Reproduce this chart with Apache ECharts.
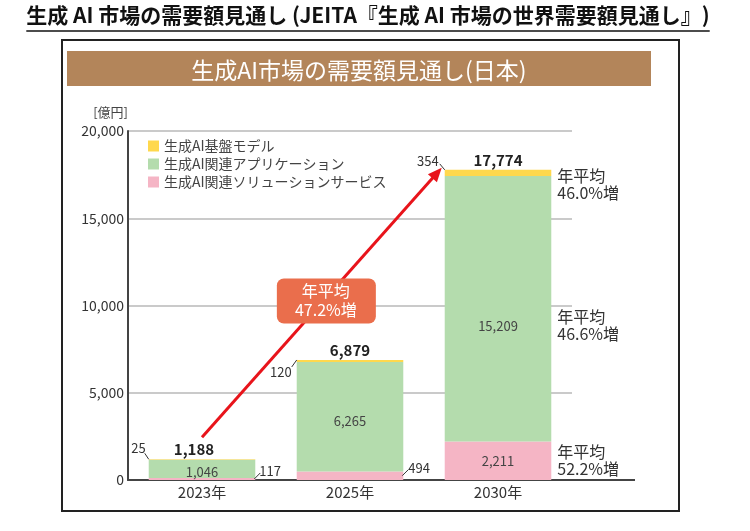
<!DOCTYPE html>
<html><head><meta charset="utf-8">
<script src="https://cdn.jsdelivr.net/npm/echarts@6/dist/echarts.min.js"></script>
<style>html,body{margin:0;padding:0;background:#fff}#c{width:750px;height:531px}</style>
</head><body><div id="c"></div>
<script>
// ---- data ----
const categories = ['2023年', '2025年', '2030年'];
const solutionValues = [117, 494, 2211];       // 生成AI関連ソリューションサービス
const applicationValues = [1046, 6265, 15209]; // 生成AI関連アプリケーション
const foundationValues = [25, 120, 354];       // 生成AI基盤モデル
const totals = [1188, 6879, 17774];
const yTicks = [0, 5000, 10000, 15000, 20000];
const seriesNames = ['生成AI基盤モデル', '生成AI関連アプリケーション', '生成AI関連ソリューションサービス'];
const growthFoundation = '46.0%増';
const growthApplication = '46.6%増';
const growthSolution = '52.2%増';
const growthOverall = '47.2%増';
const growthPrefix = '年平均';
const titleText = '生成 AI 市場の需要額見通し (JEITA『生成 AI 市場の世界需要額見通し』)';
const headerText = '生成AI市場の需要額見通し(日本)';
const unitText = '[億円]';

// ---- styles ----
const FONT = '"Noto Sans CJK JP", "Noto Sans", sans-serif';
const C_YEL = '#FFD84D', C_GRN = '#B4DCAD', C_PNK = '#F5B5C5';
const BAR_RATIO = 0.72;
const fmt = v => v.toLocaleString('en-US');

// callout layout (offsets only)
const foundationCallout = [
  { line: [-4, -6], text: [-3, -11] },
  { line: [-5, 7], text: [-5, 12] },
  { line: [-5, -6], text: [-6, -9] }
];
const solutionCallout = [
  { line: [5, -6], text: [4, -8] },
  { line: [5, -6], text: [5, -8] },
  null
];
const totalDx = [-8, 0, 0];

const chart = echarts.init(document.getElementById('c'));

// measure title for underline
const ctx = document.createElement('canvas').getContext('2d');
const titleFont = 'bold 21px ' + FONT;
ctx.font = titleFont;
const titleW = ctx.measureText(titleText).width;
const titleCx = 368;

function renderCallouts(params, api) {
  const i = api.value(0);
  const cx = api.coord([i, 0])[0];
  const half = api.size([1, 0])[0] * BAR_RATIO / 2;
  const left = cx - half, right = cx + half;
  const yBase = api.coord([i, 0])[1];
  const yTop = api.coord([i, totals[i]])[1];
  const yPinkTop = api.coord([i, solutionValues[i]])[1];
  const yGreenTop = api.coord([i, solutionValues[i] + applicationValues[i]])[1];
  const kids = [];
  const txt = (text, x, y, align, size, color, weight, lh) => ({
    type: 'text', z2: 20,
    style: { text, x, y, align, verticalAlign: 'middle', fill: color,
      font: (weight || 'normal') + ' ' + size + 'px ' + FONT, lineHeight: lh || size }
  });
  // total label
  kids.push(txt(fmt(totals[i]), cx + totalDx[i], yTop - 10, 'center', 15, '#222', 'bold'));
  // foundation callout (left of bar top)
  const fc = foundationCallout[i];
  kids.push({ type: 'line', shape: { x1: left, y1: yTop, x2: left + fc.line[0], y2: yTop + fc.line[1] },
    style: { stroke: '#333', lineWidth: 1 } });
  kids.push(txt(fmt(foundationValues[i]), left + fc.text[0], yTop + fc.text[1], 'right', 13, '#333'));
  // solution callout (right of bar bottom)
  const sc = solutionCallout[i];
  if (sc) {
    const ym = (yBase + yPinkTop) / 2;
    kids.push({ type: 'line', shape: { x1: right - 1, y1: ym, x2: right + sc.line[0], y2: ym + sc.line[1] },
      style: { stroke: '#333', lineWidth: 1 } });
    kids.push(txt(fmt(solutionValues[i]), right + sc.text[0], ym + sc.text[1], 'left', 13, '#333'));
  }
  if (i === categories.length - 1) {
    // growth notes to the right of last bar
    const gx = right + 6;
    kids.push(txt(growthPrefix + '\n' + growthFoundation, gx, yTop + 15, 'left', 16, '#333', 'normal', 17));
    kids.push(txt(growthPrefix + '\n' + growthApplication, gx, (yPinkTop + yGreenTop) / 2 + 17, 'left', 16, '#333', 'normal', 17));
    kids.push(txt(growthPrefix + '\n' + growthSolution, gx, (yBase + yPinkTop) / 2, 'left', 16, '#333', 'normal', 17));
    // baseline extension
    const cs = params.coordSys;
    kids.push({ type: 'line', shape: { x1: cs.x + cs.width - 1, y1: yBase, x2: cs.x + cs.width + 63, y2: yBase },
      style: { stroke: '#444', lineWidth: 2 } });
    // overall growth arrow
    const c0 = api.coord([0, totals[0]]);
    const sx = c0[0], sy = c0[1] - 22;
    const ex = left - 3, ey = yTop - 2;
    const dx = ex - sx, dy = ey - sy, len = Math.hypot(dx, dy);
    const ux = dx / len, uy = dy / len, px = -uy, py = ux;
    const hl = 14, hw = 6;
    const bx = ex - ux * hl, by = ey - uy * hl;
    kids.push({ type: 'line', z2: 5, shape: { x1: sx, y1: sy, x2: bx + ux * 2, y2: by + uy * 2 },
      style: { stroke: '#E8141B', lineWidth: 3 } });
    kids.push({ type: 'polygon', z2: 5, shape: { points: [[ex, ey], [bx + px * hw, by + py * hw], [bx - px * hw, by - py * hw]] },
      style: { fill: '#E8141B' } });
    const mx = (sx + ex) / 2 + 4, my = (sy + ey) / 2 - 2;
    kids.push({ type: 'rect', z2: 10, shape: { x: mx - 49, y: my - 22, width: 99, height: 45, r: 7 },
      style: { fill: '#EA6E4C' } });
    kids.push(txt(growthPrefix + '\n' + growthOverall, mx, my, 'center', 16, '#fff', 'normal', 19));
  }
  return { type: 'group', children: kids };
}

const option = {
  animation: false,
  textStyle: { fontFamily: FONT },
  grid: { left: 128, right: 178, top: 131, bottom: 51, containLabel: false, outerBoundsMode: 'none' },
  legend: {
    data: seriesNames, orient: 'vertical', left: 143, top: 134,
    itemWidth: 11, itemHeight: 11, itemGap: 4, icon: 'rect',
    textStyle: { fontSize: 14, color: '#444', lineHeight: 14, fontFamily: FONT }
  },
  xAxis: {
    type: 'category', data: categories,
    axisLine: { show: true, lineStyle: { color: '#444', width: 2 } },
    axisTick: { show: false },
    axisLabel: { fontSize: 15, color: '#333', margin: 5, fontFamily: FONT }
  },
  yAxis: {
    type: 'value', min: yTicks[0], max: yTicks[yTicks.length - 1], interval: yTicks[1] - yTicks[0],
    name: unitText, nameGap: 12,
    nameTextStyle: { fontSize: 13, color: '#444', align: 'right', fontFamily: FONT },
    axisLine: { show: true, lineStyle: { color: '#444', width: 2 } },
    axisTick: { show: false },
    axisLabel: { fontSize: 14, color: '#333', margin: 4, formatter: v => fmt(v), fontFamily: FONT },
    splitLine: { lineStyle: { color: '#b8b8b8', width: 1.5 } }
  },
  series: [
    {
      name: seriesNames[2], type: 'bar', stack: 't', barWidth: (BAR_RATIO * 100) + '%',
      itemStyle: { color: C_PNK },
      data: solutionValues.map((v, i) => ({
        value: v,
        label: { show: i === 2, position: 'inside', formatter: p => fmt(p.value), fontSize: 13, color: '#444', fontFamily: FONT }
      }))
    },
    {
      name: seriesNames[1], type: 'bar', stack: 't',
      itemStyle: { color: C_GRN },
      data: applicationValues.map((v, i) => ({
        value: v,
        label: { show: true, position: 'inside', offset: i === 2 ? [0, 17] : (i === 0 ? [0, 3] : [0, 4]),
          formatter: p => fmt(p.value), fontSize: 13, color: '#444', fontFamily: FONT }
      }))
    },
    {
      name: seriesNames[0], type: 'bar', stack: 't',
      itemStyle: { color: C_YEL },
      data: foundationValues
    },
    {
      type: 'custom', name: 'callouts', z: 10, clip: false, silent: true,
      renderItem: renderCallouts,
      data: categories.map((c, i) => [i, totals[i]]),
      encode: { x: 0, y: 1 }
    }
  ],
  graphic: [
    { type: 'text', left: titleCx - titleW / 2, top: 5,
      style: { text: titleText, font: titleFont, fill: '#111' } },
    { type: 'line', shape: { x1: titleCx - titleW / 2, y1: 31, x2: titleCx + titleW / 2, y2: 31 },
      style: { stroke: '#111', lineWidth: 1.5 } },
    { type: 'rect', shape: { x: 62, y: 40, width: 617, height: 471 },
      style: { fill: 'none', stroke: '#222', lineWidth: 2 } },
    { type: 'rect', shape: { x: 67, y: 51, width: 584, height: 35 },
      style: { fill: '#B3855A' } },
    { type: 'text', x: 359, y: 70,
      style: { text: headerText, font: 'normal 23px ' + FONT, fill: '#fff', align: 'center', verticalAlign: 'middle' } }
  ]
};
chart.setOption(option);
</script>
</body></html>
